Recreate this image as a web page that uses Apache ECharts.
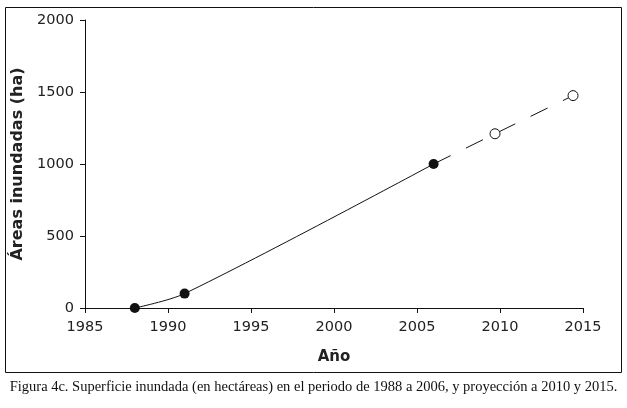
<!DOCTYPE html>
<html><head><meta charset="utf-8">
<script src="https://cdn.jsdelivr.net/npm/echarts@6/dist/echarts.min.js"></script>
<style>html,body{margin:0;padding:0;background:#fff}#c{width:627px;height:408px}</style>
</head><body><div id="c"></div>
<script>
var obsYears = [1988, 1991, 2006];
var obsValues = [0, 100, 1000];
var projYears = [2006, 2009.7, 2014.4];
var projValues = [1000, 1210, 1475];
var xTicks = [1985, 1990, 1995, 2000, 2005, 2010, 2015];
var yTicks = [0, 500, 1000, 1500, 2000];

var chart = echarts.init(document.getElementById('c'), null, {renderer: 'canvas'});
var font = 'DejaVu Sans, Verdana, sans-serif';
var obsData = obsYears.map(function (y, i) { return [y, obsValues[i]]; });
var projData = projYears.map(function (y, i) {
  var d = {value: [y, projValues[i]]};
  if (i === 0) d.symbol = 'none';
  return d;
});
chart.setOption({
  animation: false,
  grid: {left: 85, top: 20, right: 44, bottom: 100},
  xAxis: {
    type: 'value', min: xTicks[0], max: xTicks[xTicks.length - 1], interval: 5,
    name: 'Año', nameLocation: 'middle', nameGap: 42,
    nameTextStyle: {fontFamily: font, fontWeight: 'bold', fontSize: 15, color: '#222'},
    axisLine: {lineStyle: {color: '#111', width: 1}},
    axisTick: {show: true, length: 5, lineStyle: {color: '#111'}},
    axisLabel: {fontFamily: font, fontSize: 14.5, color: '#222', margin: 12, formatter: function (v) { return String(v); }},
    splitLine: {show: false}
  },
  yAxis: {
    type: 'value', min: yTicks[0], max: yTicks[yTicks.length - 1], interval: 500,
    name: 'Áreas inundadas (ha)', nameLocation: 'middle', nameGap: 58, nameRotate: 90,
    nameTextStyle: {fontFamily: font, fontWeight: 'bold', fontSize: 16, color: '#222'},
    axisLine: {show: true, lineStyle: {color: '#111', width: 1}},
    axisTick: {show: true, length: 5, lineStyle: {color: '#111'}},
    axisLabel: {fontFamily: font, fontSize: 14.5, color: '#222', margin: 11, formatter: function (v) { return String(v); }},
    splitLine: {show: false}
  },
  series: [
    {
      type: 'line', data: projData, z: 2,
      symbol: 'circle', symbolSize: 10, showAllSymbol: true,
      lineStyle: {color: '#111', width: 1, type: [19, 17]},
      itemStyle: {color: '#fff', borderColor: '#111', borderWidth: 1}
    },
    {
      type: 'line', data: obsData, smooth: 0.3, z: 3,
      symbol: 'circle', symbolSize: 10,
      lineStyle: {color: '#111', width: 1},
      itemStyle: {color: '#111'}
    }
  ],
  graphic: [
    {type: 'rect', shape: {x: 5.5, y: 7.5, width: 616, height: 365}, style: {fill: null, stroke: '#111', lineWidth: 1}, silent: true},
    {type: 'text', left: 'center', top: 380, style: {text: 'Figura 4c. Superficie inundada (en hectáreas) en el periodo de 1988 a 2006, y proyección a 2010 y 2015.', font: '14.5px "Liberation Serif", serif', fill: '#111'}}
  ]
});
</script></body></html>
